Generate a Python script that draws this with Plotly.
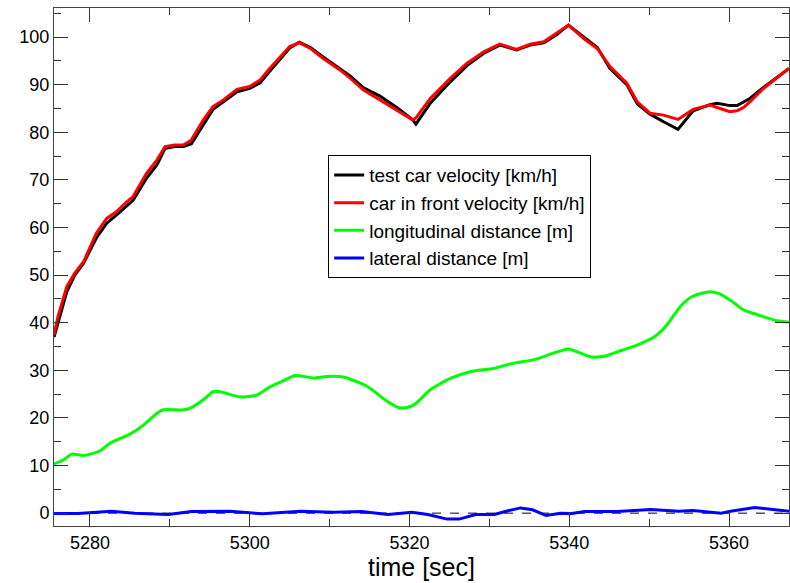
import plotly.graph_objects as go

# ---- data ----
t_vel = [5275.5, 5276.0, 5277.1, 5278.1, 5279.2, 5280.8, 5282.1, 5283.3, 5284.6, 5285.4,
         5287.1, 5288.4, 5289.4, 5290.6, 5291.7, 5292.7, 5294.2, 5295.4, 5296.7, 5298.4,
         5300.0, 5301.3, 5302.5, 5303.8, 5305.0, 5306.2, 5307.6, 5309.2, 5311.3, 5312.6,
         5314.2, 5316.3, 5318.4, 5320.4, 5320.8, 5322.6, 5325.1, 5327.2, 5329.3, 5331.3,
         5333.4, 5335.1, 5336.8, 5338.4, 5339.9, 5341.8, 5343.5, 5345.1, 5347.2, 5348.5,
         5350.1, 5351.8, 5353.6, 5355.5, 5357.6, 5358.5, 5360.1, 5361.0, 5361.8, 5362.6,
         5364.3, 5367.5]
v_front = [37.4, 41.3, 47.6, 50.4, 52.8, 58.8, 61.9, 63.3, 65.4, 66.5,
           71.4, 74.2, 77.0, 77.3, 77.3, 78.4, 82.6, 85.4, 86.8, 89.0,
           89.6, 91.0, 93.4, 95.9, 98.0, 98.8, 97.6, 95.5, 93.1, 91.3,
           88.9, 86.8, 84.7, 82.6, 83.0, 87.1, 91.3, 94.5, 96.9, 98.5,
           97.4, 98.5, 99.0, 100.8, 102.5, 99.7, 97.6, 93.8, 90.3, 86.4,
           84.0, 83.6, 82.7, 84.8, 85.7, 85.2, 84.3, 84.5, 85.2, 86.4,
           89.2, 93.4]
v_test = [37.0, 40.0, 46.5, 50.0, 52.5, 57.8, 60.9, 62.6, 64.6, 65.7,
          70.4, 73.2, 76.6, 77.0, 77.0, 77.6, 81.6, 84.8, 86.4, 88.5,
          89.2, 90.4, 92.8, 95.4, 97.7, 98.9, 97.8, 95.8, 93.4, 91.8,
          89.4, 87.6, 85.2, 82.6, 81.7, 86.1, 90.6, 94.0, 96.6, 98.3,
          97.3, 98.3, 98.8, 100.5, 102.5, 100.0, 97.8, 93.4, 90.0, 86.0,
          83.8, 82.2, 80.6, 84.5, 85.8, 86.1, 85.6, 85.6, 86.3, 87.1,
          89.4, 93.4]

t_lon = [5275.5, 5276.7, 5277.7, 5279.2, 5281.3, 5282.5, 5283.8, 5285.0, 5286.7, 5288.4,
         5289.2, 5291.7, 5292.5, 5294.2, 5295.4, 5296.3, 5298.8, 5300.9, 5302.5, 5304.2,
         5305.7, 5308.0, 5309.6, 5311.7, 5313.4, 5315.1, 5316.7, 5318.6, 5319.7, 5320.7,
         5322.6, 5325.1, 5327.6, 5330.5, 5333.0, 5335.5, 5338.0, 5339.9, 5341.4, 5342.8,
         5344.5, 5346.4, 5348.5, 5350.8, 5352.2, 5353.9, 5355.4, 5357.6, 5358.9, 5360.6,
         5361.8, 5363.9, 5366.0, 5367.5]
d_lon = [10.3, 11.2, 12.4, 12.1, 13.1, 14.7, 15.7, 16.6, 18.5, 21.0,
         21.7, 21.7, 22.0, 23.8, 25.5, 25.5, 24.4, 24.8, 26.5, 27.8,
         28.9, 28.4, 28.7, 28.6, 27.6, 26.2, 24.1, 22.2, 22.2, 22.9,
         25.9, 28.3, 29.7, 30.4, 31.5, 32.2, 33.6, 34.5, 33.6, 32.8,
         33.0, 34.1, 35.3, 37.2, 39.5, 43.4, 45.5, 46.5, 46.0, 44.2,
         42.7, 41.5, 40.4, 40.1]

t_lat = [5275.5, 5278.5, 5282.7, 5285.6, 5289.8, 5292.7, 5297.5, 5301.6, 5306.4, 5310.5,
         5314.0, 5317.3, 5320.3, 5322.3, 5324.7, 5326.2, 5328.3, 5330.6, 5332.1, 5333.9,
         5335.4, 5337.1, 5338.9, 5340.1, 5341.9, 5346.0, 5350.2, 5353.7, 5355.5, 5359.0,
         5360.2, 5363.2, 5365.5, 5367.5]
d_lat = [-0.1, -0.1, 0.4, 0.0, -0.3, 0.35, 0.4, -0.15, 0.4, 0.2,
         0.35, -0.3, 0.2, -0.3, -1.25, -1.25, -0.3, -0.3, 0.4, 1.1,
         0.7, -0.5, 0.0, -0.1, 0.35, 0.35, 0.75, 0.4, 0.55, 0.0,
         0.4, 1.2, 0.75, 0.4]

x_ticks = [5280, 5300, 5320, 5340, 5360]
y_ticks = [0, 10, 20, 30, 40, 50, 60, 70, 80, 90, 100]

FONT = "Liberation Sans, Arial, sans-serif"

fig = go.Figure()
fig.add_hline(y=0, line=dict(color="#000000", width=1, dash="dash"), layer="below")
fig.add_trace(go.Scatter(x=t_vel, y=v_test, mode="lines", name="test car velocity [km/h]",
                         line=dict(color="#000000", width=3)))
fig.add_trace(go.Scatter(x=t_vel, y=v_front, mode="lines", name="car in front velocity [km/h]",
                         line=dict(color="#ff0000", width=3)))
fig.add_trace(go.Scatter(x=t_lon, y=d_lon, mode="lines", name="longitudinal distance [m]",
                         line=dict(color="#00ff00", width=3, shape="spline", smoothing=0.6)))
fig.add_trace(go.Scatter(x=t_lat, y=d_lat, mode="lines", name="lateral distance [m]",
                         line=dict(color="#0000ff", width=3)))

axis_common = dict(
    showgrid=False, zeroline=False, showline=True, linecolor="#444444", linewidth=1,
    mirror="allticks", ticks="inside", ticklen=14, tickwidth=1, tickcolor="#333333",
    tickfont=dict(family=FONT, size=18, color="#000000"),
)

fig.update_layout(
    width=790, height=583,
    margin=dict(l=54, r=1, t=8, b=57),
    paper_bgcolor="white", plot_bgcolor="white",
    font=dict(family=FONT, color="#000000"),
    showlegend=True,
    legend=dict(x=0.373, y=0.716, xanchor="left", yanchor="top",
                bgcolor="white", bordercolor="#000000", borderwidth=1,
                font=dict(family=FONT, size=19, color="#000000"),
                tracegroupgap=0, itemwidth=30),
    xaxis=dict(range=[5275.5, 5367.5], tickmode="array", tickvals=x_ticks,
               ticktext=[str(v) for v in x_ticks],
               title=dict(text="time [sec]", font=dict(family=FONT, size=25, color="#000000"),
                          standoff=6),
               minor=dict(ticks="inside", dtick=10, tick0=5270, ticklen=7, tickcolor="#333333"),
               **axis_common),
    yaxis=dict(range=[-2.7, 106.1], tickmode="array", tickvals=y_ticks,
               ticktext=[str(v) for v in y_ticks],
               minor=dict(ticks="inside", dtick=5, tick0=0, ticklen=7, tickcolor="#333333"),
               **axis_common),
)

fig.write_html("out.html")
